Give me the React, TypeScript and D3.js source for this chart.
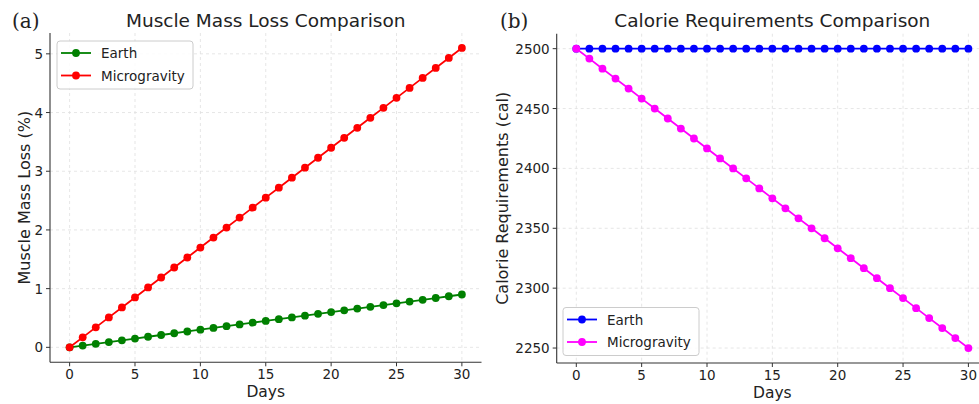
import * as d3 from 'd3'
import React from 'react'

const days = [0, 1, 2, 3, 4, 5, 6, 7, 8, 9, 10, 11, 12, 13, 14, 15, 16, 17, 18, 19, 20, 21, 22, 23, 24, 25, 26, 27, 28, 29, 30]

const muscleEarth = [0, 0.03, 0.06, 0.09, 0.12, 0.15, 0.18, 0.21, 0.24, 0.27, 0.3, 0.33, 0.36, 0.39, 0.42, 0.45, 0.48, 0.51, 0.54, 0.57, 0.6, 0.63, 0.66, 0.69, 0.72, 0.75, 0.78, 0.81, 0.84, 0.87, 0.9]
const muscleMicro = [0, 0.17, 0.34, 0.51, 0.68, 0.85, 1.02, 1.19, 1.36, 1.53, 1.7, 1.87, 2.04, 2.21, 2.38, 2.55, 2.72, 2.89, 3.06, 3.23, 3.4, 3.57, 3.74, 3.91, 4.08, 4.25, 4.42, 4.59, 4.76, 4.93, 5.1]

const calEarth = [2500, 2500, 2500, 2500, 2500, 2500, 2500, 2500, 2500, 2500, 2500, 2500, 2500, 2500, 2500, 2500, 2500, 2500, 2500, 2500, 2500, 2500, 2500, 2500, 2500, 2500, 2500, 2500, 2500, 2500, 2500]
const calMicro = [2500, 2491.7, 2483.3, 2475, 2466.7, 2458.3, 2450, 2441.7, 2433.3, 2425, 2416.7, 2408.3, 2400, 2391.7, 2383.3, 2375, 2366.7, 2358.3, 2350, 2341.7, 2333.3, 2325, 2316.7, 2308.3, 2300, 2291.7, 2283.3, 2275, 2266.7, 2258.3, 2250]

const dayTicks = [0, 5, 10, 15, 20, 25, 30]
const muscleTicks = [0, 1, 2, 3, 4, 5]
const calTicks = [2250, 2300, 2350, 2400, 2450, 2500]

const font = '"DejaVu Sans", sans-serif'

type Series = { name: string; values: number[]; color: string }

function Panel(props: {
  left: number
  right: number
  top: number
  bottom: number
  yDomain: [number, number]
  yTicks: number[]
  series: Series[]
  title: string
  yLabel: string
  yLabelX: number
  tag: string
  tagX: number
  legend: { x: number; y: number; w: number; h: number }
}) {
  const { left, right, top, bottom, yDomain, yTicks, series, legend } = props
  const x = d3.scaleLinear().domain([-1.5, 31.5]).range([left, right])
  const y = d3.scaleLinear().domain(yDomain).range([bottom, top])
  const line = d3
    .line<number>()
    .x((_, i) => x(days[i]))
    .y(d => y(d))

  return (
    <g>
      {dayTicks.map(t => (
        <line key={'gx' + t} x1={x(t)} x2={x(t)} y1={top} y2={bottom} stroke="#e0e0e0" strokeWidth={0.8} strokeDasharray="3,3" />
      ))}
      {yTicks.map(t => (
        <line key={'gy' + t} x1={left} x2={right} y1={y(t)} y2={y(t)} stroke="#e0e0e0" strokeWidth={0.8} strokeDasharray="3,3" />
      ))}
      {series.map(s => (
        <g key={s.name}>
          <path d={line(s.values) || ''} fill="none" stroke={s.color} strokeWidth={1.8} />
          {s.values.map((v, i) => (
            <circle key={i} cx={x(days[i])} cy={y(v)} r={3.9} fill={s.color} />
          ))}
        </g>
      ))}
      <line x1={left} x2={left} y1={top} y2={bottom} stroke="#333" strokeWidth={1.1} />
      <line x1={left} x2={right} y1={bottom} y2={bottom} stroke="#333" strokeWidth={1.1} />
      {dayTicks.map(t => (
        <g key={'tx' + t}>
          <line x1={x(t)} x2={x(t)} y1={bottom} y2={bottom + 4} stroke="#333" />
          <text x={x(t)} y={bottom + 16.5} textAnchor="middle" fontSize={13.5} fontFamily={font} fill="#222">
            {t}
          </text>
        </g>
      ))}
      {yTicks.map(t => (
        <g key={'ty' + t}>
          <line x1={left - 4} x2={left} y1={y(t)} y2={y(t)} stroke="#333" />
          <text x={left - 7} y={y(t) + 5} textAnchor="end" fontSize={13.5} fontFamily={font} fill="#222">
            {t}
          </text>
        </g>
      ))}
      <text x={(left + right) / 2} y={bottom + 35} textAnchor="middle" fontSize={15.5} fontFamily={font} fill="#222">
        Days
      </text>
      <text
        transform={`translate(${props.yLabelX},${(top + bottom) / 2}) rotate(-90)`}
        textAnchor="middle"
        fontSize={16}
        fontFamily={font}
        fill="#222"
      >
        {props.yLabel}
      </text>
      <text x={(left + right) / 2} y={27} textAnchor="middle" fontSize={18.5} fontFamily={font} fill="#222">
        {props.title}
      </text>
      <text x={props.tagX} y={28} fontSize={20} fontFamily='"DejaVu Serif", "Liberation Serif", serif' fill="#222">
        {props.tag}
      </text>
      <rect x={legend.x} y={legend.y} width={legend.w} height={legend.h} rx={3} fill="white" fillOpacity={0.85} stroke="#cccccc" />
      {series.map((s, i) => {
        const ly = legend.y + 12 + i * 22.5
        return (
          <g key={'lg' + s.name}>
            <line x1={legend.x + 4} x2={legend.x + 34} y1={ly} y2={ly} stroke={s.color} strokeWidth={1.8} />
            <circle cx={legend.x + 19} cy={ly} r={3.9} fill={s.color} />
            <text x={legend.x + 44} y={ly + 5} fontSize={13.5} fontFamily={font} fill="#222">
              {s.name}
            </text>
          </g>
        )
      })}
    </g>
  )
}

export default function App() {
  return (
    <svg width={979} height={404} style={{ position: 'absolute', left: 0, top: 0, background: 'white' }}>
      <rect width={979} height={404} fill="white" />
      <Panel
        left={50}
        right={481.5}
        top={33}
        bottom={362.3}
        yDomain={[-0.255, 5.355]}
        yTicks={muscleTicks}
        series={[
          { name: 'Earth', values: muscleEarth, color: '#008000' },
          { name: 'Microgravity', values: muscleMicro, color: '#ff0000' }
        ]}
        title="Muscle Mass Loss Comparison"
        yLabel="Muscle Mass Loss (%)"
        yLabelX={30}
        tag="(a)"
        tagX={12}
        legend={{ x: 57, y: 41, w: 136, h: 48 }}
      />
      <Panel
        left={556.7}
        right={988}
        top={33.7}
        bottom={363}
        yDomain={[2237.5, 2512.5]}
        yTicks={calTicks}
        series={[
          { name: 'Earth', values: calEarth, color: '#0000ff' },
          { name: 'Microgravity', values: calMicro, color: '#ff00ff' }
        ]}
        title="Calorie Requirements Comparison"
        yLabel="Calorie Requirements (cal)"
        yLabelX={508}
        tag="(b)"
        tagX={500}
        legend={{ x: 563, y: 307.5, w: 136, h: 48 }}
      />
    </svg>
  )
}
